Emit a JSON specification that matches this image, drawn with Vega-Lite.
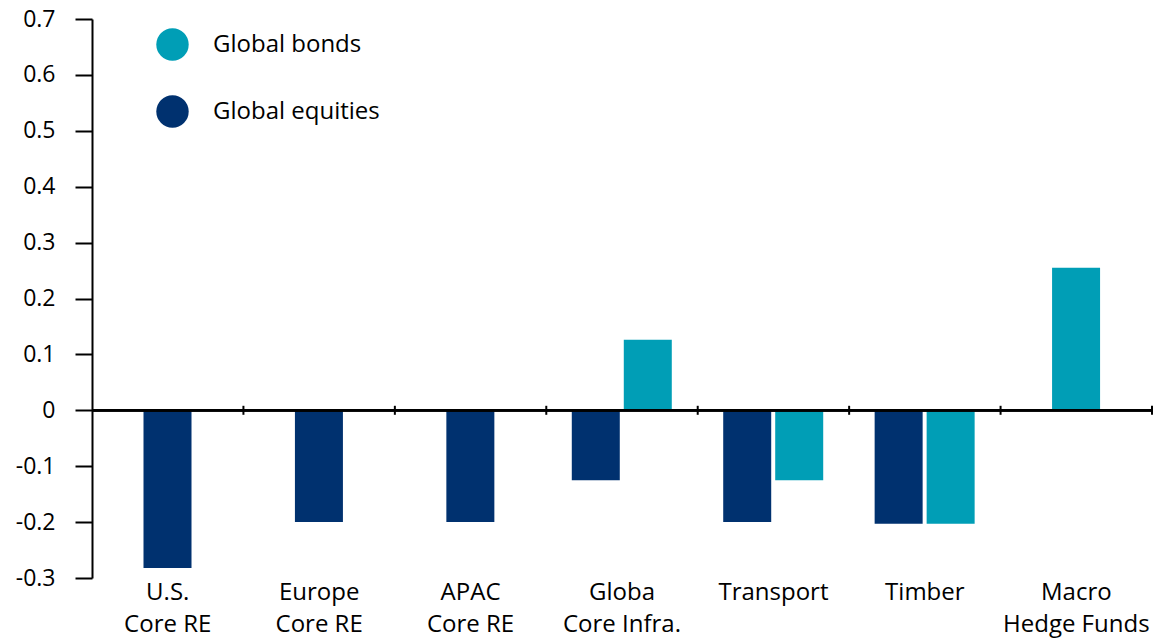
{
  "$schema": "https://vega.github.io/schema/vega-lite/v6.json",
  "width": 1060,
  "height": 559,
  "autosize": "none",
  "padding": {"left": 92, "top": 19, "right": 9, "bottom": 61},
  "background": "white",
  "config": {"view": {"stroke": null}, "font": "Open Sans"},
  "data": {"values": [
    {"category": "U.S. Core RE", "series": "Global equities", "value": -0.282},
    {"category": "Europe Core RE", "series": "Global equities", "value": -0.2},
    {"category": "APAC Core RE", "series": "Global equities", "value": -0.2},
    {"category": "Globa Core Infra.", "series": "Global equities", "value": -0.125},
    {"category": "Globa Core Infra.", "series": "Global bonds", "value": 0.126},
    {"category": "Transport", "series": "Global equities", "value": -0.2},
    {"category": "Transport", "series": "Global bonds", "value": -0.125},
    {"category": "Timber", "series": "Global equities", "value": -0.203},
    {"category": "Timber", "series": "Global bonds", "value": -0.203},
    {"category": "Macro Hedge Funds", "series": "Global bonds", "value": 0.255}
  ]},
  "layer": [
    {
      "transform": [
        {"joinaggregate": [{"op": "count", "as": "n"}], "groupby": ["category"]},
        {"calculate": "datum.n == 1 ? 'C' : (datum.series == 'Global equities' ? 'L' : 'R')", "as": "slot"}
      ],
      "mark": {"type": "bar", "width": 48},
      "encoding": {
        "x": {
          "field": "category", "type": "nominal",
          "scale": {"domain": ["U.S. Core RE", "Europe Core RE", "APAC Core RE", "Globa Core Infra.", "Transport", "Timber", "Macro Hedge Funds"], "paddingInner": 0, "paddingOuter": 0},
          "axis": {
            "title": null, "domain": false, "ticks": false, "labelAngle": 0,
            "labelFontSize": 24, "labelColor": "black", "labelPadding": 2, "labelLineHeight": 32, "labelLimit": 300,
            "labelExpr": "indexof(datum.value, ' ') > 0 ? [substring(datum.value, 0, indexof(datum.value, ' ')), substring(datum.value, indexof(datum.value, ' ') + 1)] : datum.value"
          }
        },
        "xOffset": {"field": "slot", "type": "nominal", "scale": {"domain": ["L", "C", "R"], "paddingInner": 0, "paddingOuter": 0, "range": [36.5, 114.5]}},
        "y": {
          "field": "value", "type": "quantitative",
          "scale": {"domain": [-0.3, 0.7], "nice": false, "zero": false},
          "axis": {
            "title": null, "grid": false, "values": [-0.3, -0.2, -0.1, 0, 0.1, 0.2, 0.3, 0.4, 0.5, 0.6, 0.7],
            "labelExpr": "datum.value + ''",
            "domainColor": "black", "domainWidth": 2, "tickColor": "black", "tickWidth": 2, "tickSize": 17,
            "labelFontSize": 23, "labelColor": "black", "labelPadding": 20
          }
        },
        "color": {
          "field": "series", "type": "nominal",
          "scale": {"domain": ["Global bonds", "Global equities"], "range": ["#009EB6", "#00316F"]},
          "legend": {
            "title": null, "orient": "none", "legendX": 64, "legendY": 9,
            "symbolType": "circle", "symbolSize": 1050, "symbolOpacity": 1, "symbolStrokeWidth": 0,
            "labelFontSize": 24, "labelColor": "black", "labelOffset": 24, "rowPadding": 34, "labelLimit": 400
          }
        }
      }
    },
    {
      "mark": {"type": "rule", "color": "black", "strokeWidth": 2},
      "encoding": {"y": {"datum": 0, "type": "quantitative"}}
    },
    {
      "transform": [{"aggregate": [{"op": "count", "as": "n"}], "groupby": ["category"]}],
      "mark": {"type": "tick", "orient": "vertical", "color": "black", "thickness": 2, "size": 9, "opacity": 1},
      "encoding": {
        "x": {"field": "category", "type": "nominal", "bandPosition": 1},
        "y": {"datum": 0, "type": "quantitative"}
      }
    }
  ]
}
